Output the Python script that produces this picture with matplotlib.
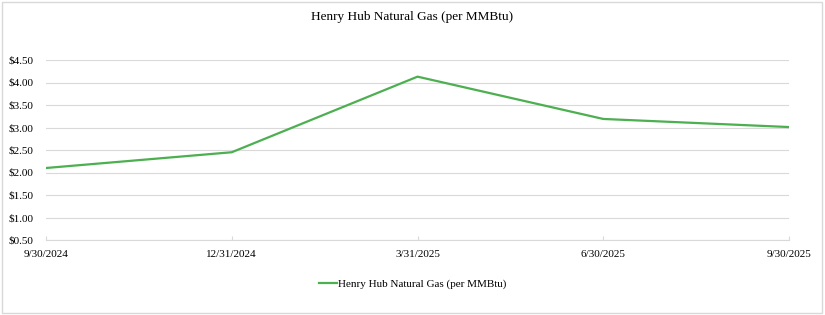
import matplotlib
matplotlib.use("Agg")
import matplotlib.pyplot as plt
from matplotlib.patches import Rectangle

dates = ["9/30/2024", "12/31/2024", "3/31/2025", "6/30/2025", "9/30/2025"]
prices = [2.10, 2.45, 4.13, 3.19, 3.01]
yticks = [0.5, 1.0, 1.5, 2.0, 2.5, 3.0, 3.5, 4.0, 4.5]
series_name = "Henry Hub Natural Gas (per MMBtu)"

plt.rcParams['font.family'] = ['Liberation Serif', 'DejaVu Serif']

W, H = 825, 315
fig = plt.figure(figsize=(W/100, H/100), dpi=100)
fig.patches.append(Rectangle((2/W, 2/H), 1 - 5/W, 1 - 4/H, transform=fig.transFigure,
                             fill=False, edgecolor='#d9d9d9', linewidth=1))

ax = fig.add_axes([46/W, 1 - 240/H, (789 - 46)/W, (240 - 60)/H])
x = list(range(len(dates)))
color = '#4CAF50'
ax.plot(x, prices, color=color, linewidth=1.6, label=series_name)

ax.set_xlim(0, len(dates) - 1)
ax.set_ylim(0.5, 4.5)
ax.set_yticks(yticks)
ax.set_yticklabels([f"${v:.2f}" for v in yticks], fontsize=8)
ax.set_xticks(x)
ax.set_xticklabels(dates, fontsize=8)
ax.grid(axis='y', color='#d9d9d9', linewidth=0.8)
ax.set_axisbelow(True)
for s in ['left', 'right', 'top']:
    ax.spines[s].set_visible(False)
ax.spines['bottom'].set_color('#d9d9d9')
ax.spines['bottom'].set_linewidth(0.8)
ax.tick_params(axis='y', length=0, pad=9)
ax.tick_params(axis='x', direction='in', length=3, color='#d9d9d9', pad=7.5)

fig.text(0.5, 1 - 17/H, "Henry Hub Natural Gas (per MMBtu)", ha='center', va='center', fontsize=9.5)

leg = fig.legend(loc='center', bbox_to_anchor=(0.5, 1 - 284/H), frameon=False, fontsize=8,
                 handlelength=1.6, handletextpad=0.1)

fig.savefig("out.png", dpi=100)
